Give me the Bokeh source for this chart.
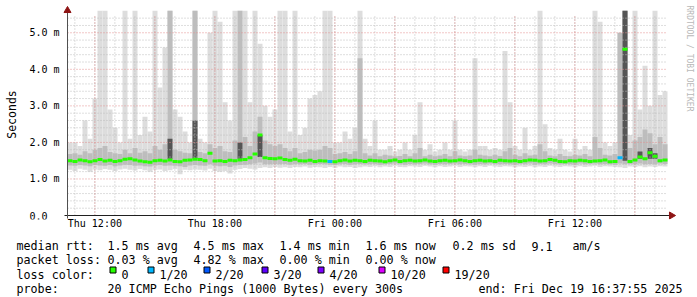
import numpy as np
from bokeh.plotting import figure
from bokeh.layouts import column
from bokeh.models import FixedTicker, Range1d, ColumnDataSource
from bokeh.core.properties import value
from bokeh.embed import file_html
from bokeh.resources import INLINE

# ---------------- data ----------------
# x axis: hours since Thu 2025-12-18 00:00 ; one smoke column per 15 minutes
start_hour = 10 + 37 / 60 + 55 / 3600      # Thu 10:37:55
span_hours = 30.0                           # ... to Fri 16:37:55
step_hours = 0.25

ping_max = [2.0, 2.0, 1.9, 2.6, 2.1, 3.2, 5.6, 5.6, 2.9, 2.4,
            2.0, 5.6, 2.1, 5.6, 2.2, 2.7, 2.3, 5.6, 3.5, 4.6,
            5.6, 2.9, 2.7, 2.3, 2.0, 5.6, 2.1, 2.0, 5.0, 5.6,
            5.3, 3.1, 2.6, 5.6, 5.6, 5.6, 3.1, 5.6, 4.7, 3.0,
            2.7, 2.9, 5.6, 5.6, 2.3, 5.6, 2.2, 2.4, 3.2, 3.3,
            3.4, 5.6, 5.6, 2.0, 2.0, 2.3, 2.1, 2.4, 5.6, 2.1,
            1.9, 2.6, 1.8, 1.8, 1.9, 1.75, 1.8, 2.0, 1.8, 2.2,
            3.1, 1.8, 1.95, 1.75, 1.8, 2.0, 1.8, 2.6, 1.8, 1.75,
            1.8, 4.3, 1.9, 1.9, 1.8, 1.85, 1.8, 4.5, 3.1, 1.9,
            1.8, 2.4, 1.8, 1.9, 5.6, 2.5, 1.85, 1.8, 2.1, 1.8,
            1.75, 2.1, 1.8, 1.9, 1.8, 5.6, 5.3, 2.0, 1.9, 2.0,
            5.0, 5.6, 2.2, 5.6, 2.9, 4.1, 3.0, 5.6, 3.3, 3.4]

ping_min = [1.25, 1.22, 1.28, 1.25, 1.20, 1.26, 1.24, 1.27, 1.25, 1.22,
            1.26, 1.28, 1.25, 1.23, 1.27, 1.24, 1.20, 1.25, 1.26, 1.22,
            1.24, 1.27, 1.13, 1.25, 1.24, 1.26, 1.25, 1.23, 1.28, 1.22,
            1.20, 1.22, 1.15, 1.25, 1.27, 1.30, 1.28, 1.26, 1.30, 1.32,
            1.30, 1.33, 1.31, 1.32, 1.30, 1.33, 1.32, 1.34, 1.31, 1.33,
            1.32, 1.30, 1.33, 1.31, 1.34, 1.32, 1.33, 1.30, 1.32, 1.34,
            1.33, 1.35, 1.32, 1.34, 1.33, 1.36, 1.33, 1.32, 1.35, 1.34,
            1.33, 1.36, 1.34, 1.32, 1.35, 1.33, 1.34, 1.36, 1.33, 1.35,
            1.34, 1.32, 1.35, 1.33, 1.36, 1.34, 1.33, 1.35, 1.34, 1.32,
            1.34, 1.33, 1.35, 1.32, 1.34, 1.33, 1.36, 1.34, 1.33, 1.35,
            1.34, 1.32, 1.35, 1.33, 1.34, 1.36, 1.33, 1.35, 1.34, 1.33,
            1.32, 1.30, 1.34, 1.33, 1.35, 1.32, 1.34, 1.33, 1.35, 1.34]

ping_q3 = [1.68, 1.70, 1.66, 1.76, 1.70, 1.80, 1.85, 1.90, 1.74, 1.70,
           1.68, 1.80, 1.70, 1.85, 1.72, 1.76, 1.70, 1.90, 1.80, 1.95,
           5.60, 1.80, 1.76, 1.72, 1.70, 5.60, 1.74, 1.70, 1.95, 1.85,
           1.90, 1.76, 1.74, 2.05, 5.60, 2.15, 1.90, 2.30, 2.70, 2.05,
           1.95, 1.90, 1.95, 1.85, 1.76, 1.85, 1.70, 1.74, 1.80, 1.78,
           1.80, 1.90, 1.85, 1.68, 1.70, 1.74, 1.68, 1.76, 4.30, 1.70,
           1.64, 1.70, 1.62, 1.66, 1.64, 1.62, 1.63, 1.68, 1.62, 1.70,
           1.85, 1.62, 1.66, 1.62, 1.64, 1.68, 1.62, 1.76, 1.64, 1.62,
           1.64, 1.80, 1.66, 1.64, 1.62, 1.66, 1.63, 1.76, 1.85, 1.66,
           1.62, 1.70, 1.64, 1.66, 1.95, 1.76, 1.64, 1.62, 1.68, 1.63,
           1.62, 1.66, 1.64, 1.68, 1.62, 2.15, 1.85, 1.66, 1.64, 1.68,
           5.00, 5.60, 1.85, 2.05, 2.15, 2.35, 2.25, 1.95, 2.15, 1.95]

ping_q1 = [1.37, 1.36, 1.38, 1.37, 1.35, 1.38, 1.37, 1.36, 1.38, 1.35,
           1.37, 1.39, 1.38, 1.36, 1.37, 1.35, 1.34, 1.37, 1.38, 1.36,
           1.37, 1.36, 1.35, 1.33, 1.37, 1.38, 1.37, 1.36, 1.40, 1.36,
           1.35, 1.36, 1.33, 1.37, 1.38, 1.39, 1.40, 1.42, 1.45, 1.40,
           1.40, 1.41, 1.40, 1.41, 1.39, 1.41, 1.40, 1.41, 1.39, 1.40,
           1.41, 1.40, 1.39, 1.38, 1.40, 1.41, 1.39, 1.40, 1.41, 1.40,
           1.40, 1.41, 1.39, 1.40, 1.41, 1.42, 1.40, 1.39, 1.41, 1.40,
           1.41, 1.42, 1.40, 1.39, 1.41, 1.40, 1.41, 1.42, 1.40, 1.41,
           1.40, 1.39, 1.41, 1.40, 1.42, 1.41, 1.40, 1.41, 1.40, 1.39,
           1.41, 1.40, 1.42, 1.39, 1.41, 1.40, 1.42, 1.41, 1.40, 1.41,
           1.40, 1.39, 1.42, 1.40, 1.41, 1.42, 1.40, 1.41, 1.40, 1.39,
           1.42, 1.40, 1.41, 1.40, 1.42, 1.40, 1.41, 1.40, 1.42, 1.41]

ping_median = [1.50, 1.48, 1.52, 1.50, 1.47, 1.50, 1.53, 1.49, 1.51, 1.48,
               1.50, 1.54, 1.55, 1.52, 1.49, 1.47, 1.46, 1.50, 1.51, 1.49,
               1.52, 1.48, 1.47, 1.51, 1.52, 1.54, 1.53, 1.50, 1.70, 1.49,
               1.50, 1.48, 1.51, 1.50, 1.52, 1.53, 1.58, 1.68, 2.20, 1.58,
               1.56, 1.55, 1.57, 1.53, 1.51, 1.54, 1.50, 1.49, 1.51, 1.48,
               1.50, 1.49, 1.48, 1.47, 1.50, 1.52, 1.49, 1.51, 1.50, 1.48,
               1.51, 1.50, 1.49, 1.47, 1.50, 1.52, 1.48, 1.50, 1.51, 1.49,
               1.50, 1.52, 1.49, 1.48, 1.50, 1.51, 1.49, 1.50, 1.52, 1.50,
               1.48, 1.50, 1.51, 1.49, 1.50, 1.48, 1.51, 1.50, 1.49, 1.50,
               1.48, 1.50, 1.52, 1.51, 1.49, 1.50, 1.53, 1.51, 1.48, 1.47,
               1.50, 1.49, 1.51, 1.50, 1.48, 1.49, 1.50, 1.52, 1.47, 1.48,
               1.58, 4.55, 1.48, 1.52, 1.60, 1.55, 1.72, 1.62, 1.50, 1.52]

# dense (dark) part of the smoke where it stands out: column -> (low, high)
dark_smoke = {20: (1.55, 2.10), 25: (1.55, 2.60), 34: (1.55, 2.00),
              38: (1.60, 2.20), 111: (1.50, 5.60), 114: (1.55, 1.75),
              116: (1.55, 1.85), 117: (1.55, 1.70)}

# packets lost out of 20 per column
ping_loss = [0] * 120
ping_loss[52] = 1
ping_loss[110] = 1

loss_levels = [0, 1, 2, 3, 4, 10, 19]
loss_level_labels = ["0", "1/20", "2/20", "3/20", "4/20", "10/20", "19/20"]
loss_level_colors = ["#26FF00", "#00B8FF", "#0059FF", "#5E00FF", "#7E00FF", "#DD00FF", "#FF0000"]

x_tick_hours = [12, 18, 24, 30, 36]
x_tick_labels = ["Thu 12:00", "Thu 18:00", "Fri 00:00", "Fri 06:00", "Fri 12:00"]
y_tick_values = [0, 1, 2, 3, 4, 5]
y_tick_labels = ["0.0", "1.0 m", "2.0 m", "3.0 m", "4.0 m", "5.0 m"]
y_max = 5.5

rtt_stats = ["1.5 ms avg", "4.5 ms max", "1.4 ms min", "1.6 ms now", "0.2 ms sd", "9.1", "am/s"]
loss_stats = ["0.03 % avg", "4.82 % max", "0.00 % min", "0.00 % now"]
probe_text = "20 ICMP Echo Pings (1000 Bytes) every 300s"
end_text = "end: Fri Dec 19 16:37:55 2025"

# ---------------- layout ----------------
W = 697
MAIN_H, LEG_H = 233, 64
FRAME_B = 219          # bottom edge of the main frame (px)
PX_H = 20.0            # pixels per hour
PX_MS = 201 / y_max    # pixels per ms
X0_PX, Y0_PX = 67, 215  # pixel of (start_hour, 0)
MONO = "DejaVu Sans Mono"
ARROW_C = "#8E1414"

xs = start_hour - X0_PX / PX_H
xe = xs + W / PX_H
ye = Y0_PX / PX_MS
ys = -(FRAME_B - Y0_PX) / PX_MS


def mx(px):
    return xs + px / PX_H


def my(py):
    return ye - py / PX_MS


n = min(len(ping_max), len(ping_min), len(ping_q1), len(ping_q3),
        len(ping_median), len(ping_loss))
col_left = start_hour + step_hours * np.arange(n)
col_right = col_left + step_hours
col_mid = col_left + step_hours / 2
color_of = dict(zip(loss_levels, loss_level_colors))
median_colors = [color_of.get(l, "#26FF00") for l in ping_loss[:n]]
dk_idx = sorted(i for i in dark_smoke if i < n)
x_end = start_hour + span_hours

p = figure(width=W, height=MAIN_H, x_range=Range1d(xs, xe), y_range=Range1d(ys, ye),
           output_backend="svg", toolbar_location=None, y_axis_location=None,
           min_border_left=0, min_border_right=0, min_border_top=0,
           min_border_bottom=MAIN_H - FRAME_B,
           background_fill_color="white", border_fill_color="white",
           outline_line_color=None, title=None)
p.grid.visible = False

# x axis (tick labels only; the line is drawn below with its arrow)
ax = p.xaxis[0]
ax.axis_line_color = None
ax.major_tick_line_color = None
ax.minor_tick_line_color = None
ax.major_tick_out = 0
ax.major_tick_in = 0
ax.major_label_text_font = MONO
ax.major_label_text_font_size = "10px"
ax.major_label_text_color = "#000000"
ax.ticker = FixedTicker(ticks=x_tick_hours, minor_ticks=[])
ax.major_label_overrides = {int(h): s for h, s in zip(x_tick_hours, x_tick_labels)}
ax.major_label_standoff = -2

# smoke
p.quad(left=col_left, right=col_right, bottom=ping_min[:n], top=ping_max[:n],
       fill_color="#DDDDDD", line_color=None)
p.quad(left=col_left, right=col_right, bottom=ping_q1[:n], top=ping_q3[:n],
       fill_color="#BDBDBD", line_color=None)
p.quad(left=col_left[dk_idx], right=col_right[dk_idx],
       bottom=[dark_smoke[i][0] for i in dk_idx], top=[dark_smoke[i][1] for i in dk_idx],
       fill_color="#555555", line_color=None)

# grid (on top of the smoke, as rrdtool does)
minor_h = list(range(11, 41))
major_h = list(range(12, 41, 3))
minor_v = [round(0.2 * k, 1) for k in range(1, 28) if k % 5]
major_v = [1, 2, 3, 4, 5]
p.segment(x0=minor_h, y0=0, x1=minor_h, y1=y_max, line_color="#BDBDBD", line_dash="1 2")
p.segment(x0=start_hour, y0=minor_v, x1=x_end, y1=minor_v, line_color="#BDBDBD", line_dash="1 2")
p.segment(x0=major_h, y0=0, x1=major_h, y1=y_max, line_color="#E39090", line_dash="1 2")
p.segment(x0=start_hour, y0=major_v, x1=x_end, y1=major_v, line_color="#E39090", line_dash="1 2")

# median, coloured by loss
p.rect(x=col_mid, y=ping_median[:n], width=step_hours, height=3, height_units="screen",
       fill_color=median_colors, line_color=None)

# axis lines with arrow heads
p.segment(x0=mx(64), y0=0, x1=mx(671), y1=0, line_color="#202020", line_width=1)
p.segment(x0=start_hour, y0=my(218), x1=start_hour, y1=my(11), line_color="#505050",
          line_width=1)
p.scatter(x=[mx(671)], y=[0], marker="triangle", size=7, angle=-np.pi / 2,
          fill_color=ARROW_C, line_color=ARROW_C)
p.scatter(x=[start_hour], y=[my(10)], marker="triangle", size=7, angle=0,
          fill_color=ARROW_C, line_color=ARROW_C)

# y tick labels (left aligned, as rrdtool prints them) and the unit title
p.text(x=mx(29), y=y_tick_values, text=y_tick_labels, text_align="left",
       text_baseline="middle", text_font=value(MONO), text_font_size=value("10px"),
       text_color="#000000")
p.text(x=[mx(11)], y=[my(114)], text=["Seconds"], angle=np.pi / 2, text_align="center",
       text_baseline="middle", text_font=value(MONO), text_font_size=value("11.5px"),
       text_color="#000000")

# watermark
p.text(x=[mx(689)], y=[my(5)], text=["RRDTOOL / TOBI OETIKER"], angle=-np.pi / 2,
       text_align="left", text_baseline="middle", text_font=value(MONO),
       text_font_size=value("8px"), text_color="#B8B8B8")

# ---------------- legend (pixel coordinates of the lower strip) ----------------
leg = figure(width=W, height=LEG_H, x_range=Range1d(0, W), y_range=Range1d(297, 297 - LEG_H),
             output_backend="svg", toolbar_location=None, min_border=0,
             x_axis_location=None, y_axis_location=None,
             background_fill_color="white", border_fill_color="white",
             outline_line_color=None, title=None)
leg.grid.visible = False

rtt_x = [107, 193, 279, 365, 452, 531, 572]
box_x = [109, 147, 203, 261, 317, 378, 442]
lx, ly, lt = [], [], []


def put(px, py, s):
    lx.append(px)
    ly.append(py)
    lt.append(s)


put(16, 245.5, "median rtt:")
for xp, s in zip(rtt_x, rtt_stats):
    put(xp, 245.5, s)
put(16, 259.8, "packet loss:")
for xp, s in zip(rtt_x, loss_stats):
    put(xp, 259.8, s)
put(16, 274, "loss color:")
for bx, lab in zip(box_x, loss_level_labels):
    put(bx + 12, 274, lab)
put(16, 288.4, "probe:")
put(107, 288.4, probe_text)
put(478, 288.4, end_text)

leg.text(x="x", y="y", text="t", source=ColumnDataSource(dict(x=lx, y=ly, t=lt)),
         text_align="left", text_baseline="alphabetic", text_font=value(MONO),
         text_font_size=value("11.7px"), text_color="#000000")
leg.quad(left=[b + 0.5 for b in box_x], right=[b + 6.5 for b in box_x],
         top=266.5, bottom=272.5, fill_color=loss_level_colors,
         line_color="#000000", line_width=1)

layout = column(p, leg, spacing=0)
open("out.html", "w").write(file_html(layout, INLINE))
